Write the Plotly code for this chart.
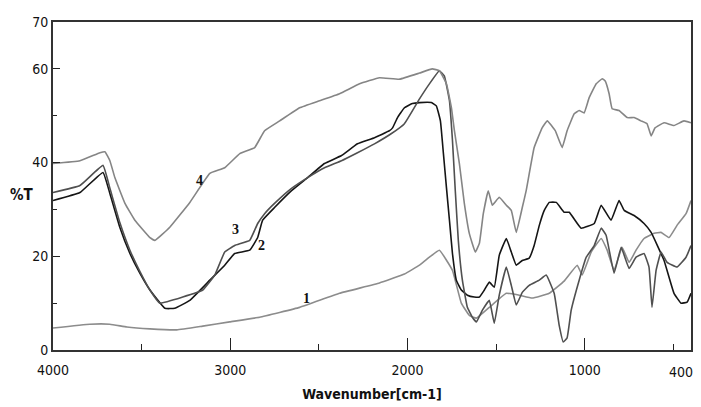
import plotly.graph_objects as go

# ---- data (wavenumber cm-1, %T) ----
wn1 = [4000, 3792, 3679, 3583, 3453, 3301, 3155, 3003, 2834, 2608, 2383, 2158, 2017, 1932, 1876, 1820,
       1746, 1696, 1651, 1611, 1538, 1442, 1369, 1296, 1200, 1116, 1042, 1014, 963, 907, 873, 834,
       789, 749, 710, 665, 608, 569, 524, 479, 428, 400]
t1 = [4.7, 5.5, 5.5, 4.9, 4.5, 4.3, 5.1, 6.0, 7.0, 9.1, 12.1, 14.3, 16.2, 18.1, 19.8, 21.3,
      17.0, 10.0, 7.4, 6.8, 9.1, 12.1, 11.7, 11.1, 12.1, 14.7, 18.1, 16.0, 20.9, 23.8, 21.3, 17.0,
      21.9, 18.7, 21.3, 23.8, 24.9, 25.1, 24.0, 26.6, 29.1, 31.9]

wn2 = [4000, 3848, 3718, 3679, 3623, 3566, 3510, 3453, 3369, 3313, 3228, 3115, 3031, 2975, 2890,
       2845, 2817, 2750, 2654, 2563, 2468, 2372, 2282, 2186, 2101, 2084, 2056, 2017, 1972, 1932,
       1865, 1837, 1814, 1797, 1780, 1763, 1746, 1724, 1696, 1662, 1623, 1594, 1566, 1538, 1510,
       1482, 1442, 1414, 1386, 1352, 1313, 1285, 1256, 1228, 1200, 1160, 1116, 1087, 1020, 946,
       907, 851, 806, 777, 721, 665, 625, 552, 496, 456, 422, 400]
t2 = [31.9, 33.6, 37.9, 33.4, 26.2, 20.6, 16.4, 12.8, 8.9, 8.9, 10.6, 14.9, 18.1, 20.6, 21.3,
      24.0, 27.7, 30.4, 34.0, 36.8, 39.8, 41.5, 44.0, 45.3, 46.8, 47.4, 49.6, 51.7, 52.6, 52.8,
      52.8, 52.1, 48.9, 41.9, 34.7, 27.7, 20.6, 14.9, 12.8, 11.7, 11.3, 11.3, 12.8, 14.5, 13.4,
      20.2, 23.8, 20.9, 18.1, 19.1, 19.6, 22.3, 26.6, 29.8, 31.5, 31.5, 29.4, 29.4, 26.0, 27.0,
      30.9, 27.7, 31.9, 29.8, 28.7, 27.0, 25.1, 19.1, 12.1, 10.0, 10.2, 12.1]

wn3 = [4000, 3848, 3718, 3679, 3623, 3566, 3510, 3453, 3397, 3268, 3155, 3087, 3031, 2975, 2890,
       2845, 2806, 2750, 2654, 2563, 2468, 2372, 2282, 2186, 2090, 2017, 1932, 1876, 1820, 1792,
       1763, 1746, 1730, 1713, 1690, 1662, 1634, 1611, 1577, 1538, 1510, 1482, 1442, 1414, 1386,
       1352, 1313, 1256, 1217, 1172, 1144, 1121, 1099, 1076, 1031, 991, 946, 907, 879, 834, 794,
       749, 710, 665, 637, 620, 597, 569, 535, 479, 428, 400]
t3 = [33.6, 35.1, 39.4, 34.5, 27.2, 21.3, 16.8, 12.8, 10.0, 11.3, 12.8, 16.0, 20.9, 22.3, 23.4,
      27.0, 29.1, 31.3, 34.5, 36.8, 38.9, 40.4, 42.1, 44.0, 46.2, 48.3, 53.6, 56.8, 59.6, 58.5,
      53.2, 44.7, 34.0, 23.4, 14.9, 9.1, 7.0, 6.0, 8.5, 10.6, 5.7, 11.7, 17.7, 13.8, 9.6,
      12.3, 13.8, 14.9, 16.0, 12.1, 5.3, 1.7, 2.6, 8.5, 14.9, 19.8, 22.3, 26.0, 24.5, 16.4, 21.9,
      17.4, 19.8, 20.6, 17.7, 9.1, 17.0, 20.9, 18.7, 17.7, 19.8, 22.3]

wn4 = [4000, 3848, 3735, 3707, 3679, 3651, 3594, 3538, 3453, 3425, 3341, 3228, 3115, 3031, 2946,
       2862, 2806, 2721, 2608, 2496, 2383, 2270, 2158, 2045, 1932, 1860, 1820, 1780, 1752, 1735,
       1707, 1679, 1651, 1617, 1594, 1572, 1544, 1521, 1482, 1442, 1414, 1386, 1352, 1330, 1285,
       1240, 1211, 1166, 1127, 1099, 1059, 1031, 1003, 975, 935, 901, 884, 862, 845, 806, 760,
       721, 682, 648, 625, 603, 552, 496, 440, 400]
t4 = [39.8, 40.4, 42.1, 42.3, 40.4, 36.8, 31.3, 27.7, 24.0, 23.4, 26.2, 31.5, 37.7, 38.9, 41.9,
      43.2, 46.8, 48.9, 51.7, 53.2, 54.7, 56.8, 58.1, 57.8, 59.1, 60.0, 59.6, 56.8, 51.7, 46.8,
      39.8, 31.3, 24.9, 20.9, 22.8, 29.1, 34.0, 30.9, 32.6, 30.9, 29.8, 25.1, 30.4, 34.0, 43.2,
      47.4, 48.9, 46.8, 43.2, 46.8, 50.4, 51.1, 50.6, 53.8, 56.8, 57.9, 57.4, 54.7, 51.5, 51.1, 49.6,
      49.6, 48.9, 48.3, 45.7, 47.4, 48.5, 47.9, 48.9, 48.5]

x_ticks = [4000, 3000, 2000, 1000, 400]
x_minor = [3500, 2500, 1500, 500]
y_ticks = [0, 20, 40, 60, 70]
y_minor = [10, 30, 50]

labels = ["1", "2", "3", "4"]
label_pos = [(2569, 10.9), (2822, 22.3), (2969, 25.7), (3172, 36.2)]

series = [(wn1, t1, "#8c8c8c"), (wn2, t2, "#151515"), (wn3, t3, "#505050"), (wn4, t4, "#858585")]

NARROW = "DejaVu Sans Condensed, Liberation Sans Narrow, Arial Narrow, Liberation Sans, sans-serif"

fig = go.Figure()
for (x, y, c), name in zip(series, labels):
    fig.add_trace(go.Scatter(x=x, y=y, mode="lines", name=name,
                             line=dict(color=c, width=1.6, shape="spline", smoothing=0.3),
                             showlegend=False, hoverinfo="skip"))

for txt, (px, py) in zip(labels, label_pos):
    fig.add_annotation(x=px, y=py, text="<b>" + txt + "</b>", showarrow=False,
                       font=dict(family="Liberation Serif, serif", size=14, color="#111"),
                       xanchor="center", yanchor="middle")

fig.add_annotation(x=-0.049, y=0.473, xref="paper", yref="paper", text="<b>%T</b>",
                   showarrow=False, font=dict(family=NARROW, size=15, color="#111"),
                   xanchor="center", yanchor="middle")

# last x tick label drawn as annotation so it is not clipped at the right edge
fig.add_annotation(x=1.007, y=-0.066, xref="paper", yref="paper", text=str(x_ticks[-1]),
                   showarrow=False, font=dict(family=NARROW, size=14, color="#111"),
                   xanchor="right", yanchor="middle")

# page has an 8px body margin: the figure is sized so the plot area lands where the reference has it
fig.update_layout(
    width=693, height=399,
    margin=dict(l=45, r=10, t=14, b=57),
    paper_bgcolor="white", plot_bgcolor="white",
    xaxis=dict(range=[4000, 400], tickvals=x_ticks,
               ticktext=[str(v) for v in x_ticks[:-1]] + [""],
               ticks="inside", ticklen=12, tickwidth=1.3, tickcolor="#222",
               ticklabelstandoff=6, automargin=False,
               showline=True, mirror=True, linecolor="#333", linewidth=1.8,
               showgrid=False, zeroline=False,
               tickfont=dict(family=NARROW, size=14, color="#111"),
               minor=dict(tickvals=x_minor, ticks="inside", ticklen=6, tickcolor="#222", tickwidth=1.3),
               title=dict(text="<b>Wavenumber[cm-1]</b>", font=dict(family=NARROW, size=14, color="#111"),
                          standoff=12)),
    yaxis=dict(range=[0, 70], tickvals=y_ticks, ticktext=[str(v) for v in y_ticks],
               ticks="inside", ticklen=7, tickwidth=1.3, tickcolor="#222",
               showline=True, mirror=True, linecolor="#333", linewidth=1.8,
               showgrid=False, zeroline=False, automargin=False,
               tickfont=dict(family=NARROW, size=14, color="#111"),
               minor=dict(tickvals=y_minor, ticks="inside", ticklen=4, tickcolor="#222", tickwidth=1.3)),
)

fig.write_html("out.html")
